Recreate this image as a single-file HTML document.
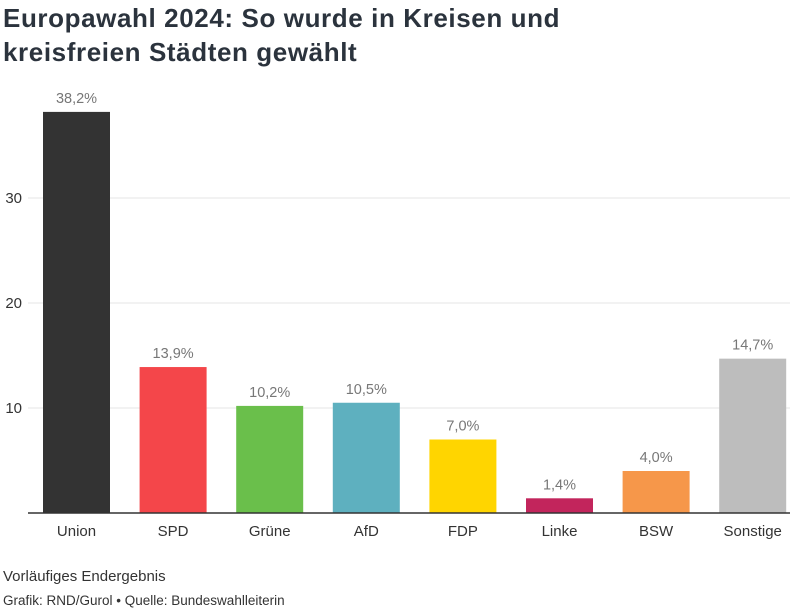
<!DOCTYPE html>
<html><head><meta charset="utf-8"><style>
body{margin:0;background:#fff;font-family:"Liberation Sans",sans-serif;}
#wrap{position:relative;width:800px;height:612px;overflow:hidden}
h1{position:absolute;left:3px;top:1px;margin:0;font-size:26px;line-height:34px;font-weight:bold;color:#2b333d;letter-spacing:0.6px}
.note{position:absolute;left:3px;font-size:14px;color:#333}
</style></head><body><div id="wrap">
<h1>Europawahl 2024: So wurde in Kreisen und<br>kreisfreien Städten gewählt</h1>
<svg id="chart" width="800" height="612" style="position:absolute;left:0;top:0"></svg>
<div class="note" style="top:568px;font-size:15px">Vorläufiges Endergebnis</div>
<div class="note" style="top:593px;font-size:13.5px">Grafik: RND/Gurol • Quelle: Bundeswahlleiterin</div>
</div>
<script>
const categories=["Union","SPD","Grüne","AfD","FDP","Linke","BSW","Sonstige"];
const values=[38.2,13.9,10.2,10.5,7.0,1.4,4.0,14.7];
const labels=["38,2%","13,9%","10,2%","10,5%","7,0%","1,4%","4,0%","14,7%"];
const colors=["#333333","#f4464a","#6abf4b","#5eb0bf","#ffd500","#c2255c","#f6974a","#bdbdbd"];
const ticks=[10,20,30];
const svg=document.getElementById('chart');
const NS='http://www.w3.org/2000/svg';
const y0=513,pxPer=10.5;
const y=v=>y0-v*pxPer;
const x0=43,step=96.6,bw=67;
const x=i=>x0+i*step;
function mk(t,a){const e=document.createElementNS(NS,t);for(const k in a)e.setAttribute(k,a[k]);svg.appendChild(e);return e;}
ticks.forEach(t=>{
 const g=mk('line',{x1:28,x2:790,y1:y(t),y2:y(t),stroke:'#e6e6e6','stroke-width':1});
 
 
 const l=mk('text',{x:22,y:y(t)+5,'text-anchor':'end','font-size':15,fill:'#333','font-family':'Liberation Sans, sans-serif'});
 l.textContent=t;
 
 
});
categories.forEach((c,i)=>{
 const r=mk('rect',{x:x(i),y:y(values[i]),width:bw,height:values[i]*pxPer,fill:colors[i]});
 
 
 const v=mk('text',{x:x(i)+bw/2,y:y(values[i])-9,'text-anchor':'middle','font-size':14.5,fill:'#777','font-family':'Liberation Sans, sans-serif'});
 v.textContent=labels[i];
 
 
 const t=mk('text',{x:x(i)+bw/2,y:536,'text-anchor':'middle','font-size':15,fill:'#333','font-family':'Liberation Sans, sans-serif'});
 t.textContent=c;
 
 
});
const b=mk('line',{x1:28,x2:790,y1:y0,y2:y0,stroke:'#333','stroke-width':1.5});


</script></body></html>
